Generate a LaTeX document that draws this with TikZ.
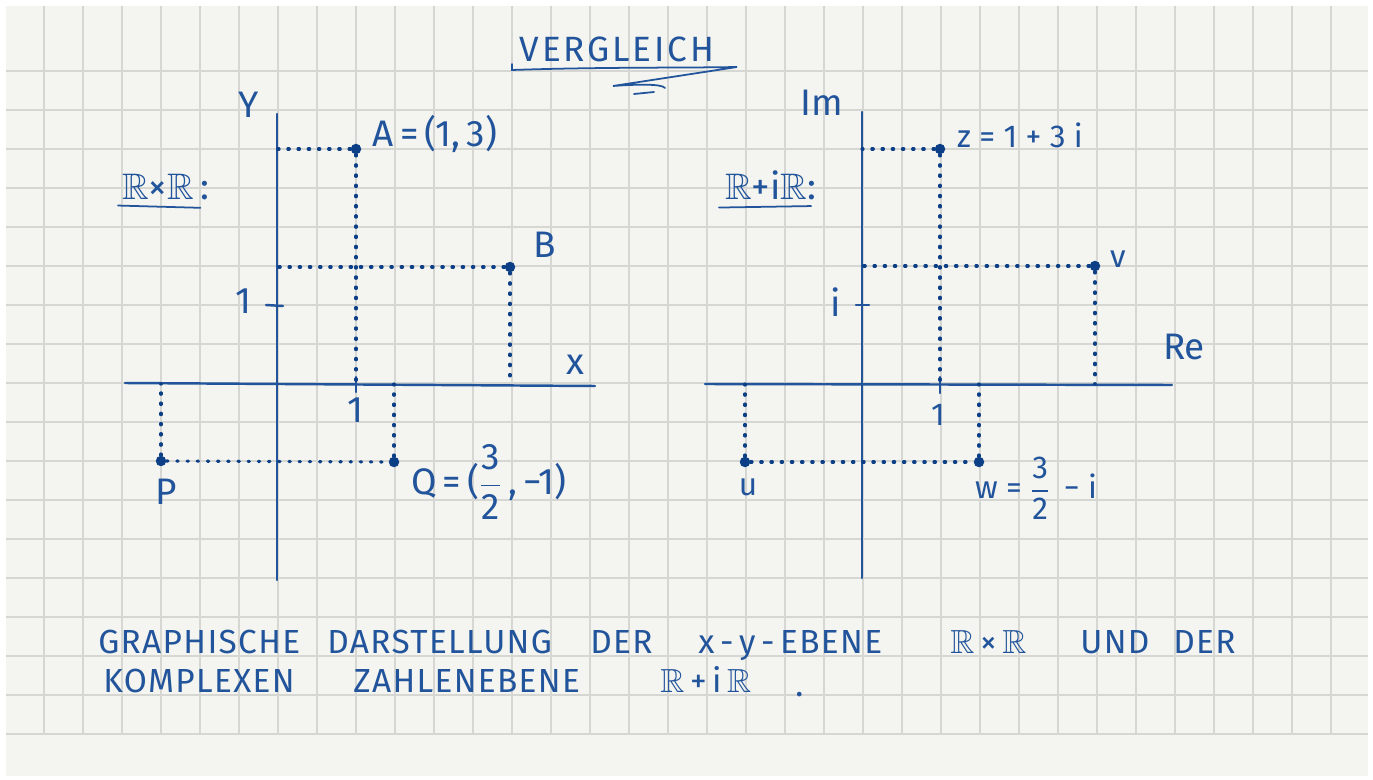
\documentclass[tikz,border=0pt]{standalone}
\usepackage{amsmath,amssymb}
\usepackage{fontspec}
\setmainfont{Fira Sans}
\usepackage{tikz}
\definecolor{Pen}{HTML}{22549C}
\definecolor{Ink}{HTML}{0D3F86}
\definecolor{Paper}{HTML}{F4F5F0}
\definecolor{Rule}{HTML}{D6D7D2}
\newcommand{\RR}{$\mathbb{R}$}
\newcommand{\half}{$\dfrac{\text{3}}{\text{2}}$}
\tikzset{
  axis/.style={Pen,line width=1.4pt,line cap=round},
  guide/.style={Ink,line width=1.8pt,line cap=round,dash pattern=on 0.8pt off 5pt},
  pt/.style={circle,fill=Ink,inner sep=0pt,minimum size=0.21cm},
  lbl/.style={Pen,font=\fontsize{21}{23}\selectfont,inner sep=1pt},
  small/.style={Pen,font=\fontsize{18}{20}\selectfont,inner sep=1pt},
  hand/.style={Pen,font=\fontsize{19}{21}\selectfont\addfontfeature{LetterSpace=4},anchor=base west,inner sep=0pt},
}

\begin{document}
\begin{tikzpicture}[x=0.02cm,y=-0.02cm]
  \useasboundingbox (0,0) rectangle (1373,780);
  % paper
  \fill[white] (0,0) rectangle (1373,780);
  \fill[Paper] (6,6) rectangle (1368,776);
  \foreach \gx in {44,83,...,1331} {
    \draw[Rule,line width=0.8pt] (\gx,6) -- (\gx,734);
  }
  \foreach \gy in {71,110,...,734} {
    \draw[Rule,line width=0.8pt] (6,\gy) -- (1368,\gy);
  }

  % title
  \node[Pen,font=\fontsize{20}{22}\selectfont\addfontfeature{LetterSpace=8}] (title) at (617,49) {VERGLEICH};
  \draw[Pen,line width=1pt,line cap=round] (512,64) -- (512,70) .. controls (600,67) and (680,68) .. (737,67)
    -- (613,86) .. controls (640,84) and (662,84) .. (665,88);
  \draw[Pen,line width=1pt,line cap=round] (634,94) -- (654,92);

  % left: x-y plane
  \coordinate (O1) at (277,384);
  \draw[axis] (125,383) -- (595,386);
  \draw[axis] (277,114) -- (277,580);
  \draw[axis] (356,377) -- (356,392);
  \draw[axis] (266,305) -- (283,306);
  \node[lbl] (ylab) at (249,105) {Y};
  \node[lbl] (xlab) at (575,365) {x};
  \node[lbl] (one1) at (355,410) {1};
  \node[lbl] (oneY) at (243,301) {1};
  \node[lbl,anchor=base west] (setL) at (120,200) {\RR×\RR\,:};
  \draw[Pen,line width=1pt,line cap=round] (setL.south west) ++(-2,3) -- ([xshift=-6pt,yshift=-3pt]setL.south east);

  \node[pt] (A) at (356,149) {};
  \node[pt] (B) at (510,267) {};
  \node[pt] (P) at (161,461) {};
  \node[pt] (Q) at (394,462) {};
  \draw[guide] (A) -- (A -| O1);
  \draw[guide] (A) -- (A |- O1);
  \draw[guide] (B) -- (B -| O1);
  \draw[guide] (B) -- (B |- O1);
  \draw[guide] (P) -- (P |- O1);
  \draw[guide] (Q) -- (Q |- O1);
  \draw[guide] (P) -- (Q);
  \node[lbl] (Alab) at (435,134) {A\,=\,(1,\,3)};
  \node[lbl] (Blab) at (545,245) {B};
  \node[lbl] (Plab) at (166,492) {P};
  \node[lbl] (Qlab) at (489,482) {Q\,=\,(\half\,,\,−1)};

  % right: complex plane
  \coordinate (O2) at (862,384);
  \draw[axis] (705,384) -- (1172,385);
  \draw[axis] (862,112) -- (862,578);
  \draw[axis] (940,377) -- (940,393);
  \draw[axis] (856,305) -- (869,305);
  \node[lbl] (imlab) at (822,103) {Im};
  \node[lbl] (relab) at (1184,347) {Re};
  \node[small] (one2) at (938,415) {1};
  \node[lbl] (ilab) at (836,302) {i};
  \node[lbl,anchor=base west] (setR) at (723,200) {\RR+i\RR:};
  \draw[Pen,line width=1pt,line cap=round] (setR.south west) ++(-4,5) -- ([xshift=-4pt,yshift=-2pt]setR.south east);

  \node[pt] (z) at (940,149) {};
  \node[pt] (v) at (1095,266) {};
  \node[pt] (u) at (745,462) {};
  \node[pt] (w) at (979,462) {};
  \draw[guide] (z) -- (z -| O2);
  \draw[guide] (z) -- (z |- O2);
  \draw[guide] (v) -- (v -| O2);
  \draw[guide] (v) -- (v |- O2);
  \draw[guide] (u) -- (u |- O2);
  \draw[guide] (w) -- (w |- O2);
  \draw[guide] (u) -- (w);
  \node[small] (zlab) at (1020,135) {z = 1 + 3 i};
  \node[small] (vlab) at (1118,259) {v};
  \node[small] (ulab) at (748,487) {u};
  \node[small] (wlab) at (1036,488) {w = \half\, − i};

  % caption
  \foreach \x/\y/\txt in {98/653/GRAPHISCHE,327/653/DARSTELLUNG,590/653/DER,698/653/{x\,-\,y\,-\,EBENE},
      950/653/{\RR\,×\,\RR},1080/653/UND,1173/653/DER,
      103/692/KOMPLEXEN,353/692/ZAHLENEBENE,660/692/{\RR\,+\,i\,\RR},795/696/.} {
    \node[hand] (word-\x-\y) at (\x,\y) {\txt};
  }
\end{tikzpicture}
\end{document}
